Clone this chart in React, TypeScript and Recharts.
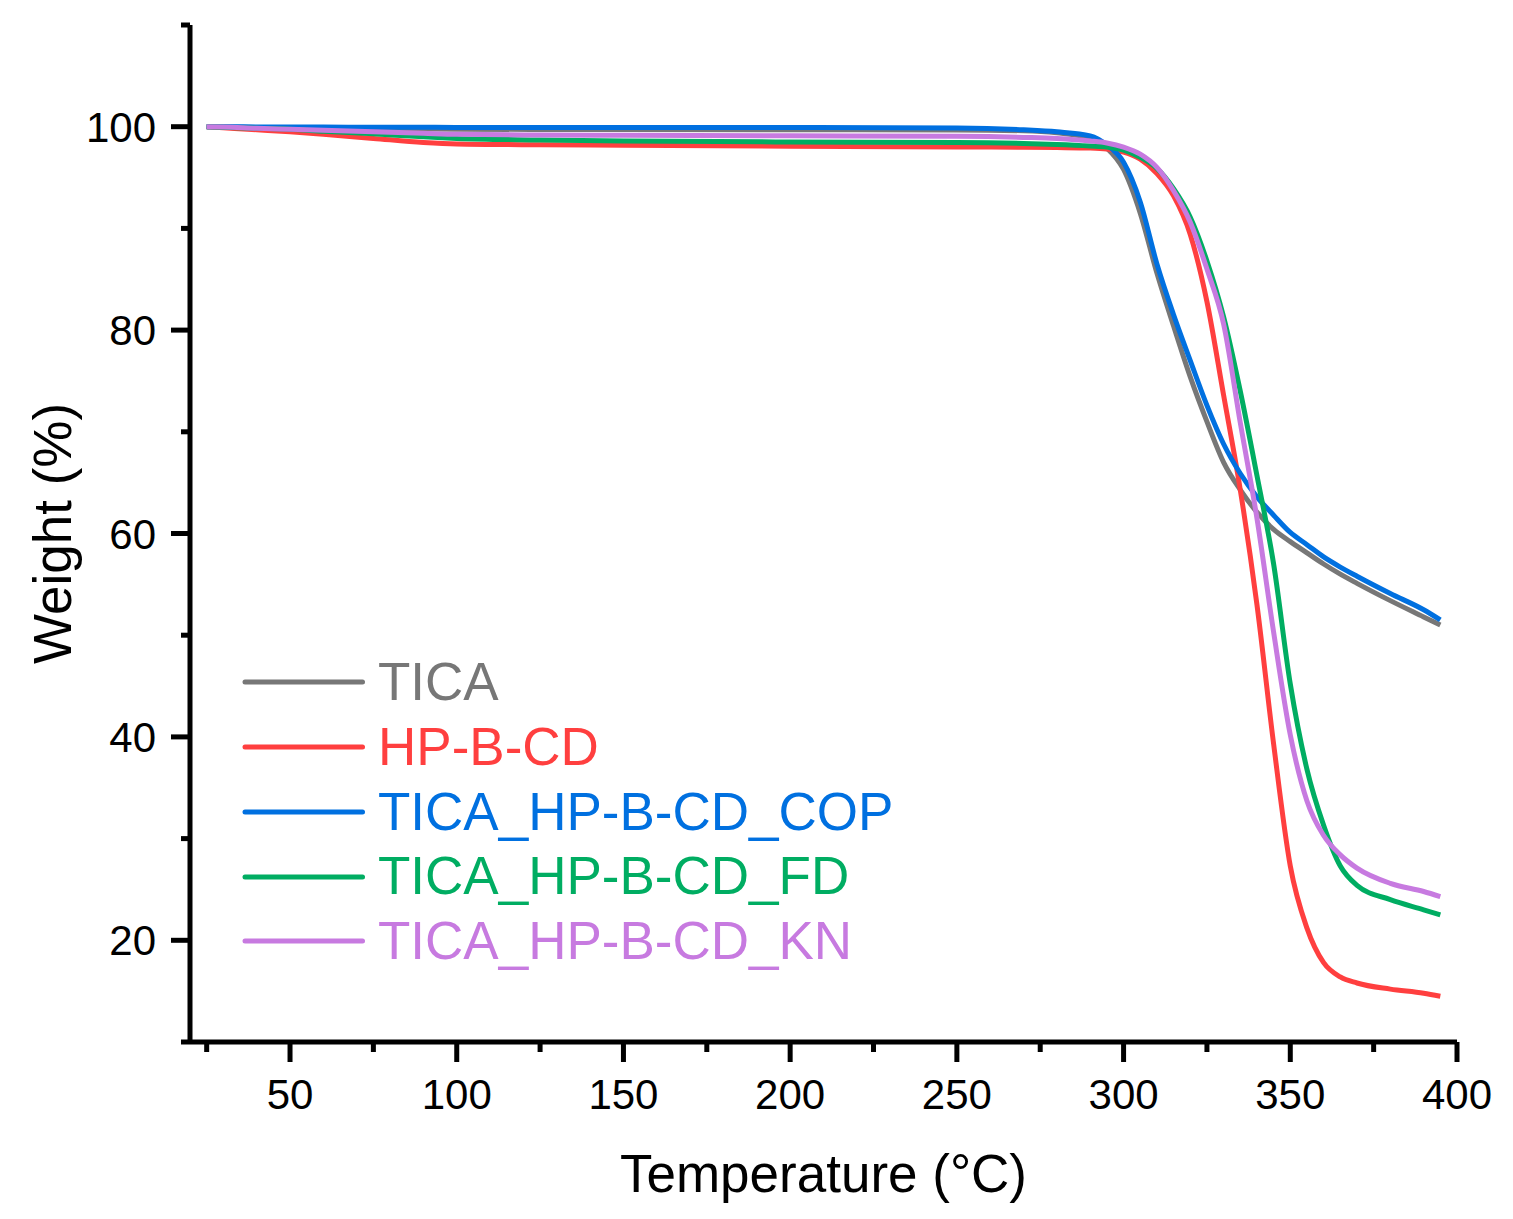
import React from "react"
import { LineChart, Line, XAxis, YAxis, Legend } from "recharts"

const FONT = "'Liberation Sans', Arial, sans-serif"

// temperature grid (°C)
const TEMPS = [
  25, 30, 40, 50, 60, 75, 90, 100, 125, 150, 200, 250, 270, 280, 290, 295, 300,
  305, 310, 315, 320, 325, 330, 335, 340, 345, 350, 355, 360, 365, 370, 380, 390, 395,
]

// weight (%) for each sample
const TICA = [
  100, 99.97, 99.92, 99.88, 99.84, 99.8, 99.77, 99.75, 99.73, 99.72, 99.7, 99.68, 99.6,
  99.4, 98.9, 97.9, 95.8, 91.5, 85.6, 80.4, 75.4, 71.0, 67.0, 64.3, 62.1, 60.4, 59.2,
  58.1, 57.0, 56.0, 55.1, 53.4, 51.8, 51.0,
]
const HP_B_CD = [
  100, 99.9, 99.7, 99.5, 99.25, 98.85, 98.45, 98.3, 98.22, 98.18, 98.08, 98.0, 97.98,
  97.95, 97.9, 97.8, 97.5, 96.8, 95.4, 93.2, 89.4, 82.8, 73.6, 64.3, 53.0, 39.3, 27.3,
  21.2, 17.8, 16.4, 15.8, 15.2, 14.8, 14.5,
]
const TICA_COP = [
  100, 100, 99.98, 99.97, 99.96, 99.95, 99.94, 99.93, 99.93, 99.93, 99.92, 99.88, 99.7,
  99.5, 99.1, 98.2, 96.5, 92.6, 86.5, 81.5, 77.0, 72.6, 68.8, 65.9, 63.6, 61.8, 60.1,
  58.9, 57.7, 56.7, 55.8, 54.1, 52.5, 51.5,
]
const TICA_FD = [
  100, 99.95, 99.85, 99.75, 99.55, 99.3, 99.0, 98.85, 98.7, 98.6, 98.5, 98.45, 98.35,
  98.25, 98.1, 98.0, 97.7, 97.0, 95.9, 93.9, 91.1, 86.8, 81.3, 74.0, 65.7, 57.0, 45.2,
  36.8, 31.3, 27.3, 25.4, 24.0, 23.0, 22.5,
]
const TICA_KN = [
  100, 99.97, 99.85, 99.75, 99.65, 99.5, 99.35, 99.25, 99.18, 99.15, 99.1, 99.05, 98.95,
  98.85, 98.6, 98.4, 98.0, 97.3, 96.0, 93.7, 90.6, 86.0, 80.6, 70.9, 61.5, 50.3, 40.2,
  33.7, 30.3, 28.4, 27.1, 25.6, 24.8, 24.3,
]

const X_TICKS = [25, 50, 75, 100, 125, 150, 175, 200, 225, 250, 275, 300, 325, 350, 375, 400]
const Y_TICKS = [10, 20, 30, 40, 50, 60, 70, 80, 90, 100, 110]

const SERIES = [
  { key: "tica", name: "TICA", color: "#777777", values: TICA },
  { key: "hp", name: "HP-B-CD", color: "#FF3F3F", values: HP_B_CD },
  { key: "cop", name: "TICA_HP-B-CD_COP", color: "#0070E0", values: TICA_COP },
  { key: "fd", name: "TICA_HP-B-CD_FD", color: "#00AD62", values: TICA_FD },
  { key: "kn", name: "TICA_HP-B-CD_KN", color: "#C77AE0", values: TICA_KN },
]

const data = TEMPS.map((t, i) => {
  const row: Record<string, number> = { t }
  SERIES.forEach((s) => {
    row[s.key] = s.values[i]
  })
  return row
})

function XTick({ x, y, payload }: any) {
  const major = payload.value % 50 === 0
  return (
    <g>
      <line x1={x} y1={y} x2={x} y2={y + (major ? 20 : 10)} stroke="#000" strokeWidth={5} />
      {major && (
        <text x={x} y={y + 67} textAnchor="middle" fontSize={42} fontFamily={FONT} fill="#000">
          {payload.value}
        </text>
      )}
    </g>
  )
}

function YTick({ x, y, payload }: any) {
  const major = payload.value % 20 === 0
  return (
    <g>
      <line x1={x - (major ? 19 : 9)} y1={y} x2={x} y2={y} stroke="#000" strokeWidth={5} />
      {major && (
        <text x={x - 34} y={y} dy="0.36em" textAnchor="end" fontSize={42} fontFamily={FONT} fill="#000">
          {payload.value}
        </text>
      )}
    </g>
  )
}

function XTitle({ viewBox }: any) {
  return (
    <text
      x={viewBox.x + viewBox.width / 2}
      y={viewBox.y + 150}
      textAnchor="middle"
      fontSize={53}
      fontFamily={FONT}
      fill="#000"
    >
      Temperature (°C)
    </text>
  )
}

function YTitle({ viewBox }: any) {
  const cx = viewBox.x + 71
  const cy = viewBox.y + viewBox.height / 2
  return (
    <text
      x={cx}
      y={cy}
      transform={`rotate(-90, ${cx}, ${cy})`}
      textAnchor="middle"
      fontSize={53}
      fontFamily={FONT}
      fill="#000"
    >
      Weight (%)
    </text>
  )
}

function LegendBox() {
  return (
    <div style={{ fontFamily: FONT }}>
      {SERIES.map((s) => (
        <div key={s.key} style={{ display: "flex", alignItems: "center", height: 64.75 }}>
          <svg width={125} height={10} style={{ display: "block" }}>
            <line x1={4} y1={5} x2={121.5} y2={5} stroke={s.color} strokeWidth={5} strokeLinecap="round" />
          </svg>
          <span style={{ marginLeft: 12, color: s.color, fontSize: 53, lineHeight: "64.75px", whiteSpace: "nowrap" }}>
            {s.name}
          </span>
        </div>
      ))}
    </div>
  )
}

export default function App() {
  return (
    <div style={{ position: "absolute", left: 0, top: 0, background: "#fff" }}>
      <LineChart
        width={1513}
        height={1219}
        data={data}
        margin={{ top: 25, right: 56, bottom: 0, left: 0 }}
        style={{ fontFamily: FONT }}
      >
        <XAxis
          dataKey="t"
          type="number"
          domain={[20, 400]}
          allowDataOverflow
          ticks={X_TICKS}
          interval={0}
          tick={<XTick />}
          tickLine={false}
          tickSize={0}
          tickMargin={0}
          height={177}
          axisLine={{ stroke: "#000", strokeWidth: 5 }}
          label={<XTitle />}
        />
        <YAxis
          type="number"
          domain={[10, 110]}
          allowDataOverflow
          ticks={Y_TICKS}
          interval={0}
          tick={<YTick />}
          tickLine={false}
          tickSize={0}
          tickMargin={0}
          width={190}
          axisLine={{ stroke: "#000", strokeWidth: 5 }}
          label={<YTitle />}
        />
        <Legend
          layout="vertical"
          align="center"
          verticalAlign="middle"
          width={700}
          wrapperStyle={{ left: 241, top: 650, margin: 0, padding: 0 }}
          content={() => <LegendBox />}
        />
        {SERIES.map((s) => (
          <Line
            key={s.key}
            dataKey={s.key}
            name={s.name}
            type="monotone"
            stroke={s.color}
            strokeWidth={5}
            dot={false}
            activeDot={false}
            isAnimationActive={false}
          />
        ))}
      </LineChart>
    </div>
  )
}
